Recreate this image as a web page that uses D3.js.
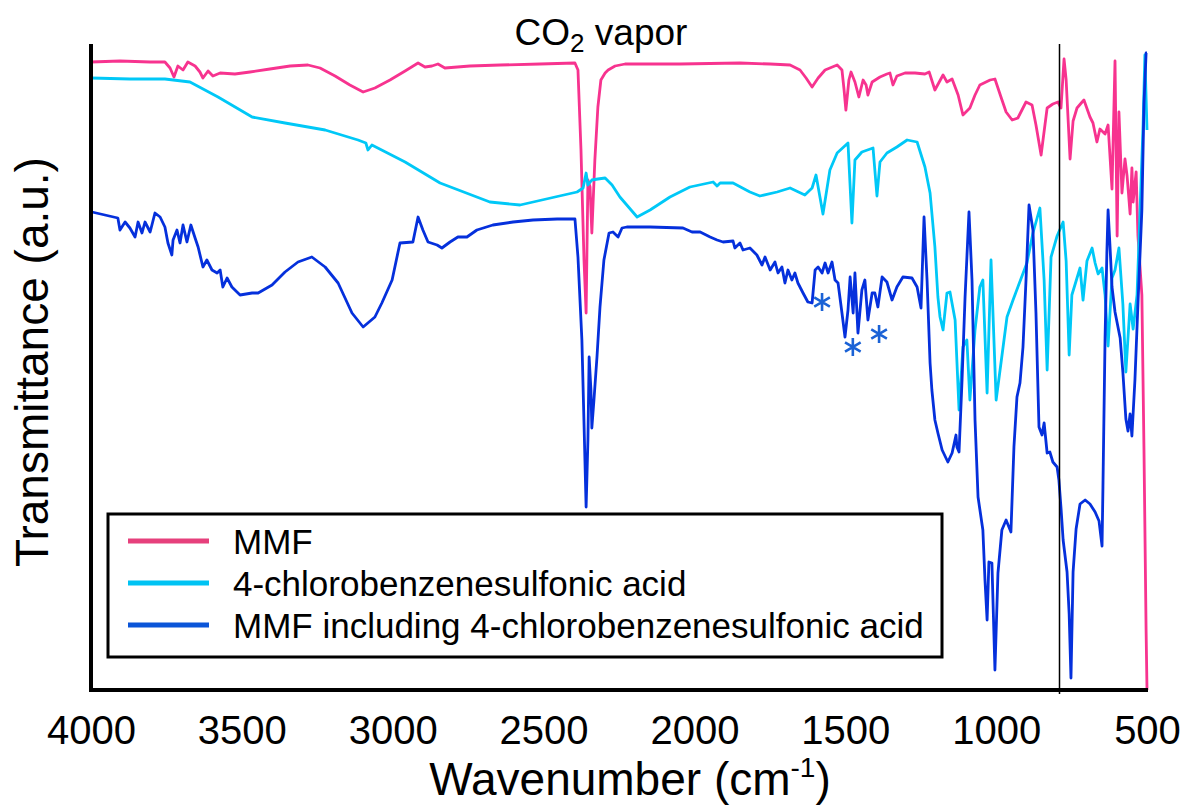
<!DOCTYPE html>
<html>
<head>
<meta charset="utf-8">
<script src="https://cdn.jsdelivr.net/npm/d3@7"></script>
<style>
  body { margin: 0; background: #fff; }
  text { font-family: "Liberation Sans", Arial, sans-serif; fill: #000; }
</style>
</head>
<body>
<div id="container"></div>
<script>
// spectra as [wavenumber (cm-1), transmittance (a.u., offset stacked)]
const mmf = [[4000,628],[3904,629],[3804,628],[3755,628],[3738,622],[3725,613],[3712,624],[3695,620],[3679,628],[3655,624],[3639,618],[3629,612],[3612,619],[3596,614],[3572,617],[3523,616],[3473,618],[3407,621],[3340,624],[3281,625],[3241,622],[3191,614],[3142,605],[3098,598],[3059,602],[3009,610],[2959,619],[2916,627],[2893,623],[2870,624],[2850,626],[2827,622],[2744,624],[2644,625],[2512,626],[2396,627],[2386,620],[2376,540],[2366,430],[2359,377],[2353,510],[2346,503],[2340,457],[2330,530],[2320,583],[2310,610],[2296,617],[2286,620],[2263,624],[2230,626],[2048,626],[1849,627],[1749,626],[1683,625],[1650,620],[1630,612],[1610,603],[1590,612],[1567,620],[1527,625],[1511,620],[1504,600],[1498,580],[1488,610],[1481,618],[1468,608],[1455,593],[1441,610],[1431,605],[1425,595],[1411,608],[1385,613],[1362,616],[1352,617],[1342,605],[1329,614],[1302,617],[1269,617],[1236,616],[1222,618],[1203,600],[1176,615],[1163,608],[1146,611],[1126,595],[1110,575],[1087,582],[1070,595],[1054,605],[1020,610],[1004,611],[984,593],[967,578],[947,570],[928,572],[901,588],[881,585],[868,565],[851,535],[831,582],[812,586],[795,588],[785,582],[775,631],[768,610],[755,531],[745,569],[732,582],[715,588],[709,590],[689,573],[679,567],[666,548],[656,561],[639,556],[629,565],[616,501],[606,629],[599,454],[593,578],[583,497],[573,531],[566,514],[556,476],[550,522],[546,488],[536,518],[530,454],[517,395],[510,240],[503,60],[500,0]];

const cbsa = [[4000,612],[3871,611],[3755,611],[3672,608],[3579,593],[3466,573],[3357,567],[3224,560],[3115,550],[3089,547],[3082,540],[3069,545],[2959,528],[2843,507],[2678,488],[2578,485],[2462,493],[2389,498],[2369,502],[2359,517],[2353,505],[2340,510],[2320,511],[2296,512],[2273,505],[2247,493],[2190,473],[2147,480],[2081,493],[2015,503],[1938,508],[1925,504],[1915,507],[1872,507],[1816,498],[1783,494],[1726,498],[1683,502],[1634,495],[1610,502],[1597,515],[1574,476],[1551,520],[1527,537],[1491,547],[1478,467],[1468,530],[1445,538],[1408,542],[1395,494],[1385,528],[1362,537],[1329,543],[1295,550],[1262,548],[1236,523],[1219,497],[1203,443],[1193,393],[1186,373],[1176,360],[1163,397],[1153,398],[1136,370],[1123,280],[1110,343],[1097,350],[1087,290],[1070,360],[1054,403],[1044,410],[1030,297],[1017,430],[1000,290],[987,320],[964,373],[944,390],[898,427],[878,457],[855,482],[841,410],[831,320],[818,433],[798,454],[778,468],[768,429],[758,335],[749,395],[732,412],[722,422],[712,390],[699,429],[682,442],[672,427],[662,416],[649,422],[639,395],[629,344],[616,412],[606,420],[593,442],[580,386],[570,318],[556,386],[546,361],[533,395],[523,480],[513,565],[507,635],[500,560]];

const mmfCbsa = [[3997,478],[3954,475],[3911,472],[3904,460],[3887,468],[3871,462],[3854,453],[3844,468],[3831,457],[3821,468],[3804,458],[3788,477],[3771,473],[3755,463],[3745,447],[3732,435],[3728,450],[3715,460],[3705,447],[3695,465],[3682,448],[3669,465],[3655,452],[3645,443],[3629,423],[3616,430],[3599,420],[3582,417],[3572,420],[3563,403],[3549,412],[3533,403],[3506,395],[3466,397],[3446,397],[3400,405],[3357,418],[3314,428],[3268,433],[3224,423],[3181,407],[3135,377],[3098,363],[3059,373],[3036,387],[3002,410],[2976,447],[2933,448],[2916,473],[2900,460],[2883,448],[2853,445],[2837,442],[2810,448],[2784,453],[2754,453],[2721,460],[2668,465],[2601,468],[2535,470],[2455,471],[2396,471],[2386,433],[2373,350],[2366,267],[2359,183],[2353,250],[2349,333],[2343,300],[2340,262],[2333,290],[2323,333],[2313,383],[2300,430],[2283,457],[2270,458],[2253,453],[2240,462],[2224,463],[2147,463],[2038,462],[2008,458],[1981,458],[1948,453],[1925,450],[1905,448],[1872,449],[1866,442],[1849,447],[1839,440],[1816,442],[1793,435],[1776,425],[1766,433],[1749,420],[1733,428],[1723,417],[1710,423],[1700,407],[1690,420],[1677,410],[1667,417],[1657,407],[1640,397],[1624,388],[1610,387],[1600,420],[1590,423],[1577,417],[1567,427],[1557,417],[1544,428],[1534,410],[1524,407],[1511,377],[1501,353],[1491,380],[1484,413],[1474,377],[1468,417],[1458,357],[1445,400],[1435,410],[1425,370],[1411,397],[1402,397],[1392,383],[1378,413],[1362,408],[1345,390],[1329,403],[1309,413],[1279,412],[1262,403],[1249,382],[1239,473],[1229,410],[1219,327],[1213,300],[1203,270],[1193,257],[1179,240],[1160,228],[1146,237],[1133,255],[1130,243],[1123,238],[1113,310],[1103,393],[1090,478],[1080,410],[1070,270],[1060,193],[1044,160],[1037,110],[1030,70],[1024,128],[1014,127],[1004,20],[994,117],[981,160],[967,170],[951,158],[941,243],[931,293],[921,307],[911,343],[901,410],[891,485],[878,460],[868,377],[858,263],[848,255],[841,267],[831,237],[822,238],[812,228],[798,223],[792,210],[785,182],[778,150],[765,118],[758,76],[752,12],[745,118],[735,161],[722,186],[705,190],[689,186],[672,178],[659,169],[649,144],[646,203],[639,352],[633,437],[629,480],[623,446],[616,403],[606,378],[589,352],[580,318],[570,271],[563,259],[556,276],[550,254],[540,310],[530,386],[517,480],[510,586],[503,637],[500,637]];

const seriesNames = ["MMF", "4-chlorobenzenesulfonic acid", "MMF including 4-chlorobenzenesulfonic acid"];
const lineColors = ["#f7338f", "#00c8f7", "#0530dc"];
const legendColors = ["#e6407c", "#00c3f3", "#0b55d8"];
const xTicks = [4000, 3500, 3000, 2500, 2000, 1500, 1000, 500];
const markerLine = 790;                 // thin vertical reference line
const asterisks = [[1577, 388], [1475, 343], [1388, 356]];

const W = 1185, H = 811;
const mLeft = 91, mRight = 1147, mTop = 44, mBottom = 690;

const svg = d3.select("#container").append("svg")
  .attr("width", W).attr("height", H);

const x = d3.scaleLinear().domain([4000, 500]).range([mLeft, mRight]);
const y = d3.scaleLinear().domain([0, 646]).range([mBottom, mTop]);

const line = d3.line().x(d => x(d[0])).y(d => y(d[1]));

[mmf, cbsa, mmfCbsa].forEach((s, i) => {
  svg.append("path")
    .datum(s)
    .attr("d", line)
    .attr("fill", "none")
    .attr("stroke", lineColors[i])
    .attr("stroke-width", 2.8)
    .attr("stroke-linejoin", "round");
});

// reference line
svg.append("line")
  .attr("x1", x(markerLine)).attr("x2", x(markerLine))
  .attr("y1", mTop).attr("y2", mBottom + 4)
  .attr("stroke", "#000").attr("stroke-width", 1.5);

// axes frame (left + bottom only)
svg.append("line")
  .attr("x1", mLeft).attr("x2", mLeft).attr("y1", mTop).attr("y2", mBottom + 2)
  .attr("stroke", "#000").attr("stroke-width", 4);
svg.append("line")
  .attr("x1", mLeft - 2).attr("x2", mRight + 1).attr("y1", mBottom).attr("y2", mBottom)
  .attr("stroke", "#000").attr("stroke-width", 4);

const xAxis = d3.axisBottom(x)
  .tickValues(xTicks)
  .tickSize(0)
  .tickPadding(26)
  .tickFormat(d3.format("d"));

const gx = svg.append("g")
  .attr("transform", `translate(0, ${mBottom})`)
  .call(xAxis);
gx.select(".domain").remove();
gx.selectAll("text")
  .style("font-family", '"Liberation Sans", Arial, sans-serif')
  .style("font-size", "40px")
  .attr("fill", "#000");

// axis titles
const xt = svg.append("text")
  .attr("x", 630).attr("y", 795)
  .attr("text-anchor", "middle")
  .style("font-size", "46px");
xt.append("tspan").text("Wavenumber (cm");
xt.append("tspan").attr("dy", -18).style("font-size", "28px").text("-1");
xt.append("tspan").attr("dy", 18).text(")");

svg.append("text")
  .attr("transform", "translate(48, 362) rotate(-90)")
  .attr("text-anchor", "middle")
  .style("font-size", "46px")
  .text("Transmittance (a.u.)");

// CO2 vapor annotation
const co2 = svg.append("text")
  .attr("x", 601).attr("y", 45)
  .attr("text-anchor", "middle")
  .style("font-size", "37px");
co2.append("tspan").text("CO");
co2.append("tspan").attr("dy", 7).style("font-size", "26px").text("2");
co2.append("tspan").attr("dy", -7).text(" vapor");

// asterisks marking bands
svg.selectAll("path.ast").data(asterisks).enter()
  .append("path")
  .attr("class", "ast")
  .attr("transform", d => `translate(${x(d[0])},${y(d[1])})`)
  .attr("d", d3.symbol(d3.symbolAsterisk, 230))
  .attr("fill", "none")
  .attr("stroke", "#1a62d6")
  .attr("stroke-width", 2.6);

// legend
svg.append("rect")
  .attr("x", 108).attr("y", 514).attr("width", 834).attr("height", 143)
  .attr("fill", "#fff").attr("stroke", "#000").attr("stroke-width", 3);

const rowY = [541, 583, 625];
seriesNames.forEach((name, i) => {
  svg.append("line")
    .attr("x1", 128).attr("x2", 209)
    .attr("y1", rowY[i]).attr("y2", rowY[i])
    .attr("stroke", legendColors[i]).attr("stroke-width", 5);
  svg.append("text")
    .attr("x", 233).attr("y", rowY[i])
    .attr("dy", "0.36em")
    .style("font-size", "35px")
    .text(name);
});
</script>
</body>
</html>
